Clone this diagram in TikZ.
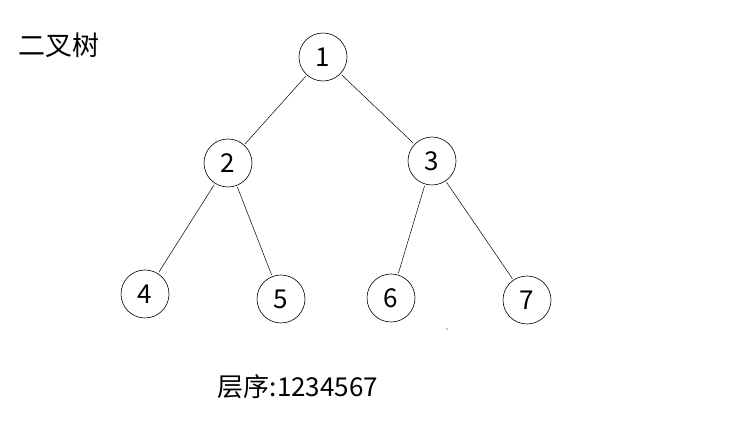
\documentclass[tikz,border=0pt]{standalone}
\usepackage{fontspec}
\setmainfont{Noto Sans CJK SC}
\begin{document}
\begin{tikzpicture}[x=1pt,y=-1pt,
  vert/.style={draw,circle,line width=0.6pt,minimum size=48pt,inner sep=0pt,font=\fontsize{26}{29}\selectfont},
  edge/.style={line width=0.5pt,shorten <=1.5pt,shorten >=1.5pt},
  label/.style={font=\fontsize{27}{30}\selectfont,inner sep=0pt}]
\useasboundingbox (0,0) rectangle (753,438);
\node[label] (title) at (59,45) {二叉树};
\node[vert] (n1) at (323,57) {1};
\node[vert] (n2) at (228,163) {2};
\node[vert] (n3) at (432,161) {3};
\node[vert] (n4) at (145,294) {4};
\node[vert] (n5) at (281,299) {5};
\node[vert] (n6) at (391,298) {6};
\node[vert] (n7) at (527,300) {7};
\draw[edge] (n1) -- (n2);
\draw[edge] (n1) -- (n3);
\draw[edge] (n2) -- (n4);
\draw[edge] (n2) -- (n5);
\draw[edge] (n3) -- (n6);
\draw[edge] (n3) -- (n7);
\fill (447,329) circle (0.6pt);
\node[label,font=\fontsize{26}{29}\selectfont] (order) at (298,387) {层序:1234567};
\end{tikzpicture}
\end{document}
